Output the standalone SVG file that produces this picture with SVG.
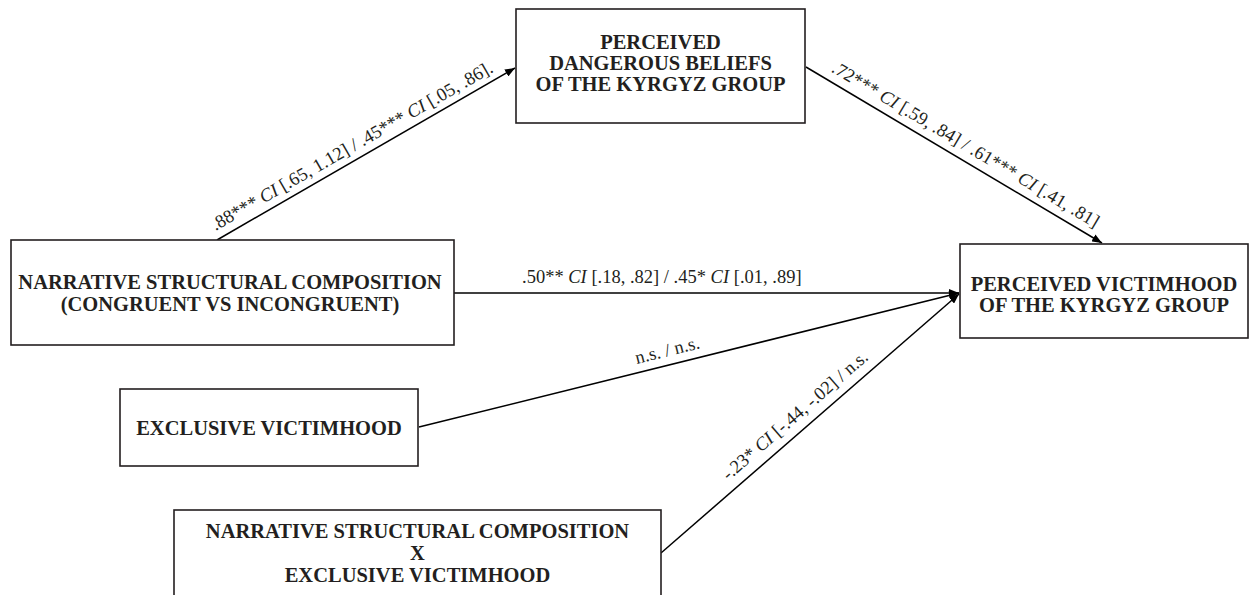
<svg xmlns="http://www.w3.org/2000/svg" width="1250" height="595" viewBox="0 0 1250 595">
<style>
.box{fill:#fff;stroke:#231f20;stroke-width:1.6}
.nt{font-family:"Liberation Serif","Times New Roman",serif;font-weight:bold;font-size:20.5px;fill:#231f20;text-anchor:middle}
.lbl{font-family:"Liberation Serif","Times New Roman",serif;font-size:18.5px;fill:#231f20}
.lbl .i{font-style:italic}
.edge{stroke:#000;stroke-width:1.5;fill:none;marker-end:url(#ah)}
</style>
<defs>
<marker id="ah" viewBox="0 0 10 8" refX="10" refY="4" markerWidth="10" markerHeight="8" markerUnits="userSpaceOnUse" orient="auto">
<path d="M0,0 L10,4 L0,8 Z" fill="#000"/>
</marker>
</defs>
<rect width="1250" height="595" fill="#fff"/>
<g id="connectors">
<line class="edge" x1="217" y1="240" x2="515" y2="68"/>
<line class="edge" x1="806" y1="67" x2="1102" y2="243"/>
<line class="edge" x1="454" y1="293" x2="959" y2="293"/>
<line class="edge" x1="419" y1="427" x2="959" y2="293"/>
<line class="edge" x1="661" y1="553" x2="959" y2="294"/>
<text class="lbl" transform="translate(220,238.8) rotate(-29.8)" x="0" y="-9">.88*** <tspan class="i">CI</tspan> [.65, 1.12] / .45*** <tspan class="i">CI</tspan> [.05, .86].</text>
<text class="lbl" transform="translate(826,78.9) rotate(30.7)" x="0" y="-9">.72*** <tspan class="i">CI</tspan> [.59, .84] / .61*** <tspan class="i">CI</tspan> [.41, .81]</text>
<text class="lbl" x="522" y="283">.50** <tspan class="i">CI</tspan> [.18, .82] / .45* <tspan class="i">CI</tspan> [.01, .89]</text>
<text class="lbl" transform="translate(639,372.7) rotate(-13.94)" x="0" y="-9">n.s. / n.s.</text>
<text class="lbl" transform="translate(735,488.6) rotate(-41)" x="0" y="-10">-.23* <tspan class="i">CI</tspan> [-.44, -.02] / n.s.</text>
</g>
<g id="node-dangerous">
<rect class="box" x="516" y="9" width="289" height="114"/>
<text class="nt" x="660.5" y="49">PERCEIVED</text>
<text class="nt" x="660.5" y="70">DANGEROUS BELIEFS</text>
<text class="nt" x="660.5" y="91">OF THE KYRGYZ GROUP</text>
</g>
<g id="node-narrative">
<rect class="box" x="11" y="240" width="443" height="105"/>
<text class="nt" x="230" y="289">NARRATIVE STRUCTURAL COMPOSITION</text>
<text class="nt" x="230" y="311">(CONGRUENT VS INCONGRUENT)</text>
</g>
<g id="node-victimhood">
<rect class="box" x="960" y="244" width="288" height="94"/>
<text class="nt" x="1104" y="291">PERCEIVED VICTIMHOOD</text>
<text class="nt" x="1104" y="312">OF THE KYRGYZ GROUP</text>
</g>
<g id="node-exclusive">
<rect class="box" x="120" y="389" width="298" height="77"/>
<text class="nt" x="269" y="435">EXCLUSIVE VICTIMHOOD</text>
</g>
<g id="node-interaction">
<rect class="box" x="174" y="510" width="487" height="100"/>
<text class="nt" x="417.5" y="538">NARRATIVE STRUCTURAL COMPOSITION</text>
<text class="nt" x="417.5" y="560">X</text>
<text class="nt" x="417.5" y="582">EXCLUSIVE VICTIMHOOD</text>
</g>
</svg>
